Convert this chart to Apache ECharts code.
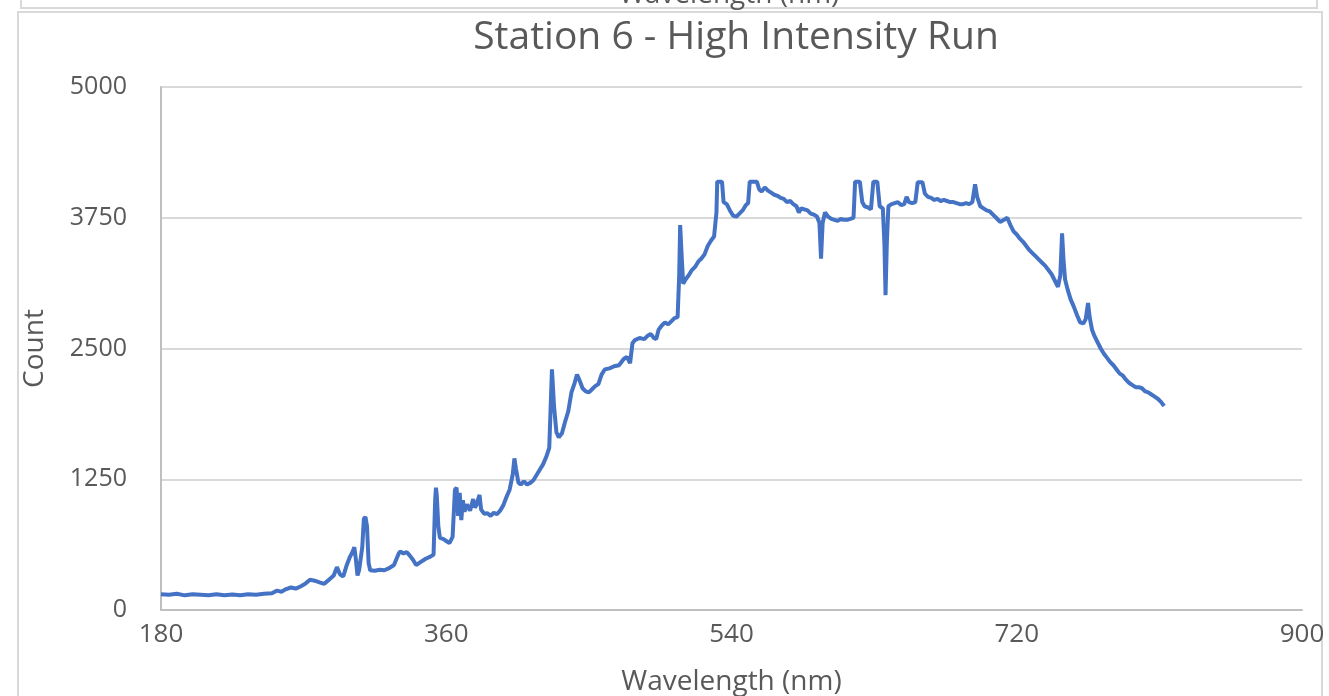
<!DOCTYPE html>
<html>
<head>
<meta charset="utf-8">
<script src="https://cdn.jsdelivr.net/npm/echarts@6/dist/echarts.min.js"></script>
<style>
html,body{margin:0;padding:0;background:#fff;}
#chart{width:1329px;height:696px;}
</style>
</head>
<body>
<div id="chart"></div>
<script>
const chartTitle = 'Station 6 - High Intensity Run';
const xAxisName = 'Wavelength (nm)';
const yAxisName = 'Count';
const xTicks = [180, 360, 540, 720, 900];
const yTicks = [0, 1250, 2500, 3750, 5000];

const wavelength = [
180,185,190,195,200,205,210,215,220,225,230,235,240,245,250,253,256,259,262,265,268,271,274,277,280,283,286,289,291,293,295,297,299,301,302,303,304,305,307,308,309,310,311,312,315,318,321,324,327,330,331,333,335,337,339,341,344,347,350,352,353,353.5,354,355,356,358,360,362,364,365.5,366.5,367.5,368.5,369.5,370.5,371.5,373,375,377,378,379,381,382,384,386,388,390,392,394,396,398,400,402,403,404,405.5,407,409,411,413,415,417,419,421,423,425,426.7,428,429.5,431,433,435,437,439,441,442.5,444,446,448,450,452,454,456,458,460,463,466,469,472,474,476,477.5,479,482,485,487,489,491,492.5,494,496,498,500,502,504,506,507,507.6,508.5,509.5,511,513,515,517,519,521,523,525,527,529,530.5,531,534,535,537,539,541,543,545,547,549,550.5,551.5,556,557.5,559,561,563,565,567,569,571,573,575,577,579,581,582.5,584,586,588,590,592,594,595.5,596.5,597.5,599,601,603,605,607,609,611,613,615,617,618,621,622.5,624,626,628,629.5,632,633.5,635.5,636.5,637.2,638,639,641,643,645,647,649,650.5,652,654,656,657.5,660.5,662,664,666,668,670,672,674,676,678,680,682,684,686,688,690,692,693.7,695,697,699,701,703,705,707,709.5,712,714,716,718,720,722,724,726,728,730,732,734,736,738,740,742,744,746,747.5,748.6,749.5,750.5,752,754,756,758,760,762,763.5,765,766,767.5,769,771,773,775,777,779,781,783,785,787,789,791,793,795,797,799,801,803,805,807,809,811,813
];
const counts = [
150,145,155,140,150,145,140,150,142,148,140,150,145,155,160,185,175,200,215,205,225,250,290,280,265,250,290,330,410,340,320,420,500,560,600,480,330,380,600,870,890,800,450,380,375,385,380,400,430,540,560,540,555,520,480,430,460,490,510,530,1050,1170,1100,800,690,680,660,640,700,1150,1170,900,1120,860,1050,940,1010,950,1060,980,1000,1100,960,920,925,900,930,915,950,1000,1080,1150,1300,1450,1350,1220,1200,1230,1200,1215,1240,1290,1340,1390,1460,1550,2300,1950,1700,1650,1690,1800,1900,2080,2170,2250,2200,2120,2090,2080,2110,2140,2160,2250,2300,2310,2330,2340,2400,2420,2360,2550,2580,2600,2590,2620,2640,2600,2590,2680,2720,2750,2730,2760,2790,2800,3200,3680,3400,3120,3160,3200,3250,3280,3330,3360,3400,3480,3530,3570,3800,4095,4095,3900,3880,3820,3770,3760,3790,3820,3870,3890,4095,4095,4020,4000,4040,4010,3990,3970,3960,3940,3930,3900,3910,3880,3860,3800,3840,3830,3820,3790,3780,3760,3700,3360,3700,3800,3760,3740,3730,3720,3740,3730,3730,3740,3750,4095,4095,3900,3860,3850,3830,4095,4095,3860,3840,3500,3010,3500,3860,3880,3890,3900,3870,3880,3950,3900,3890,3900,4090,4090,3980,3950,3940,3920,3930,3910,3920,3910,3900,3900,3890,3880,3880,3890,3880,3900,4070,3950,3860,3840,3820,3810,3780,3750,3710,3730,3750,3680,3620,3590,3550,3520,3480,3440,3410,3380,3350,3320,3290,3250,3210,3150,3090,3200,3600,3350,3160,3070,2970,2900,2820,2750,2740,2780,2935,2800,2680,2620,2560,2500,2450,2410,2370,2340,2300,2260,2240,2200,2170,2150,2130,2130,2120,2090,2080,2060,2040,2020,1990,1950
];

const seriesData = wavelength.map((w, i) => [w, counts[i]]);
const font = '"Open Sans", "Noto Sans", sans-serif';
const txt = '#595959';

const chart = echarts.init(document.getElementById('chart'), null, {renderer: 'canvas'});
chart.setOption({
  animation: false,
  backgroundColor: '#fff',
  title: {
    text: chartTitle,
    left: 731,
    textAlign: 'center',
    top: 13,
    textStyle: {fontFamily: font, fontSize: 39, fontWeight: 'normal', color: txt}
  },
  grid: {left: 161, right: 27, top: 87, bottom: 86, containLabel: false, outerBoundsMode: 'none'},
  xAxis: {
    type: 'value',
    min: xTicks[0],
    max: xTicks[xTicks.length - 1],
    interval: xTicks[1] - xTicks[0],
    name: xAxisName,
    nameLocation: 'middle',
    nameGap: 58,
    nameTextStyle: {fontFamily: font, fontSize: 28, color: txt},
    axisLine: {show: true, lineStyle: {color: '#bfbfbf', width: 2}},
    axisTick: {show: false},
    splitLine: {show: false},
    axisLabel: {fontFamily: font, fontSize: 26, color: txt, margin: 12, formatter: v => String(v)}
  },
  yAxis: {
    type: 'value',
    min: yTicks[0],
    max: yTicks[yTicks.length - 1],
    interval: yTicks[1] - yTicks[0],
    name: yAxisName,
    nameLocation: 'middle',
    nameGap: 112,
    nameTextStyle: {fontFamily: font, fontSize: 28, color: txt},
    axisLine: {show: true, lineStyle: {color: '#bfbfbf', width: 2}},
    axisTick: {show: false},
    splitLine: {show: true, lineStyle: {color: '#d9d9d9', width: 2}},
    axisLabel: {fontFamily: font, fontSize: 25, color: txt, margin: 34, formatter: v => String(v)}
  },
  graphic: [
    {type: 'rect', shape: {x: 18, y: 12, width: 1304, height: 700}, style: {fill: 'none', stroke: '#d9d9d9', lineWidth: 2}, silent: true, z: -1},
    {type: 'polyline', shape: {points: [[21, 0], [21, 8], [1317, 8], [1317, 0]]}, style: {fill: 'none', stroke: '#d9d9d9', lineWidth: 2}, silent: true},
    {type: 'text', left: 619, top: -19, style: {text: xAxisName, font: '28px ' + font, fill: txt}, silent: true}
  ],
  series: [{
    type: 'line',
    data: seriesData,
    showSymbol: false,
    smooth: false,
    lineStyle: {color: '#4472C4', width: 4},
    itemStyle: {color: '#4472C4'}
  }]
});
</script>
</body>
</html>
